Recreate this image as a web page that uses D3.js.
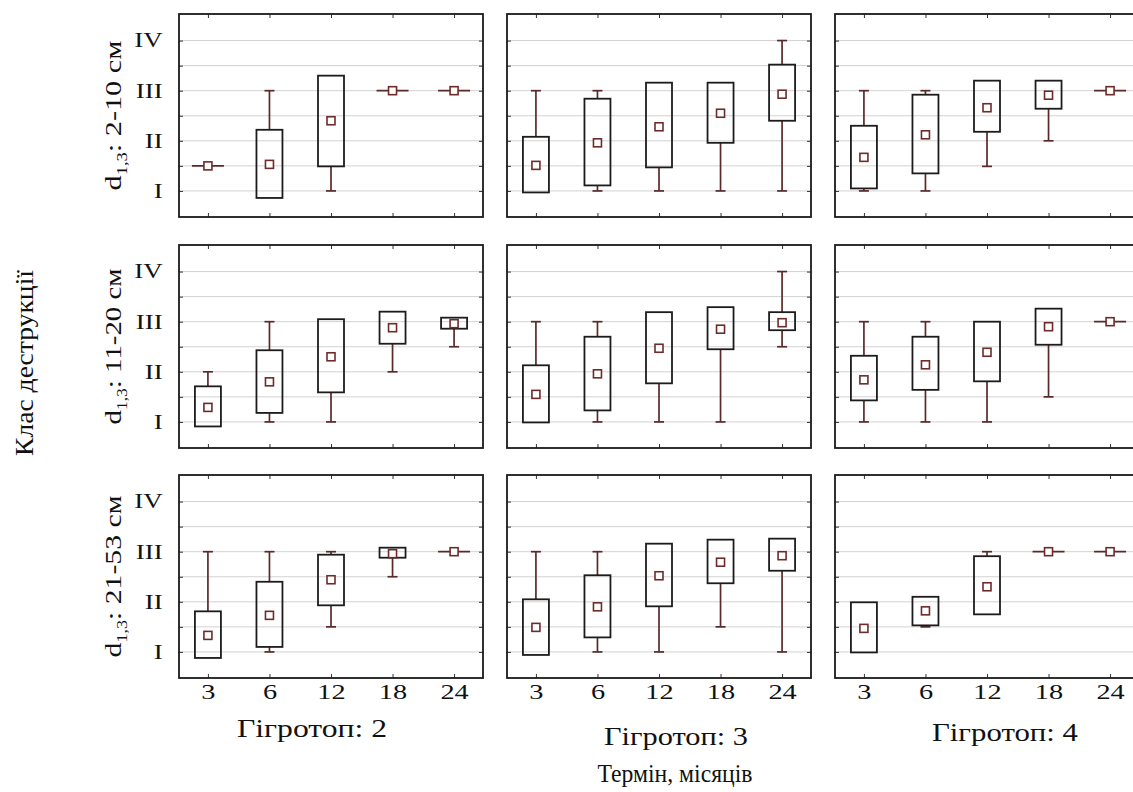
<!DOCTYPE html>
<html><head><meta charset="utf-8">
<script src="https://cdn.jsdelivr.net/npm/d3@7"></script>
<style>body{margin:0;background:#fff} svg{display:block} text{font-family:"Liberation Serif","Times New Roman",serif;fill:#111}</style>
</head><body><svg id="c" width="1133" height="792"></svg>
<script>
// ---- data ----
const times = ["3", "6", "12", "18", "24"];
const hygrotopes = ["Гігротоп: 2", "Гігротоп: 3", "Гігротоп: 4"];
const diameters = ["2-10 см", "11-20 см", "21-53 см"];
const classValues = [1, 2, 3, 4];
const classLabels = ["I", "II", "III", "IV"];

// per row (diameter class): one array per hygrotope, 5 values per time
const mid_d1 = [[1.5, 1.53, 2.40, 3, 3], [1.51, 1.96, 2.28, 2.55, 2.93], [1.67, 2.12, 2.66, 2.91, 3]];
const lo_d1  = [[1.5, 0.86, 1.49, 3, 3], [0.97, 1.11, 1.47, 1.96, 2.40], [1.05, 1.35, 2.18, 2.64, 3]];
const hi_d1  = [[1.5, 2.22, 3.30, 3, 3], [2.08, 2.84, 3.16, 3.16, 3.52], [2.30, 2.92, 3.20, 3.20, 3]];
const min_d1 = [[1.5, 0.86, 1.0, 3, 3], [0.97, 1.0, 1.0, 1.0, 1.0], [1.0, 1.0, 1.49, 2.0, 3]];
const max_d1 = [[1.5, 3.0, 3.30, 3, 3], [3.0, 3.0, 3.16, 3.16, 4.0], [3.0, 3.0, 3.20, 3.20, 3]];

const mid_d2 = [[1.29, 1.80, 2.30, 2.88, 2.96], [1.55, 1.96, 2.47, 2.85, 2.98], [1.84, 2.14, 2.39, 2.90, 3]];
const lo_d2  = [[0.91, 1.18, 1.59, 2.56, 2.86], [0.99, 1.23, 1.77, 2.45, 2.83], [1.43, 1.64, 1.81, 2.54, 3]];
const hi_d2  = [[1.71, 2.43, 3.05, 3.20, 3.08], [2.13, 2.70, 3.19, 3.29, 3.19], [2.32, 2.70, 3.0, 3.26, 3]];
const min_d2 = [[0.91, 1.0, 1.0, 2.0, 2.5], [0.99, 1.0, 1.0, 1.0, 2.5], [1.0, 1.0, 1.0, 1.5, 3]];
const max_d2 = [[2.0, 3.0, 3.05, 3.20, 3.08], [3.0, 3.0, 3.19, 3.29, 4.0], [3.0, 3.0, 3.0, 3.26, 3]];

const mid_d3 = [[1.33, 1.73, 2.44, 2.96, 3], [1.49, 1.90, 2.52, 2.79, 2.92], [1.47, 1.82, 2.30, 3, 3]];
const lo_d3  = [[0.88, 1.10, 1.93, 2.88, 3], [0.94, 1.29, 1.91, 2.37, 2.62], [0.99, 1.53, 1.75, 3, 3]];
const hi_d3  = [[1.81, 2.40, 2.94, 3.08, 3], [2.05, 2.53, 3.16, 3.24, 3.26], [1.99, 2.10, 2.91, 3, 3]];
const min_d3 = [[0.88, 1.0, 1.5, 2.5, 3], [0.94, 1.0, 1.0, 1.5, 1.0], [0.99, 1.5, 1.75, 3, 3]];
const max_d3 = [[3.0, 3.0, 3.0, 3.08, 3], [3.0, 3.0, 3.16, 3.24, 3.26], [1.99, 2.10, 3.0, 3, 3]];

const rows = [
  {mid: mid_d1, lo: lo_d1, hi: hi_d1, min: min_d1, max: max_d1},
  {mid: mid_d2, lo: lo_d2, hi: hi_d2, min: min_d2, max: max_d2},
  {mid: mid_d3, lo: lo_d3, hi: hi_d3, min: min_d3, max: max_d3}
];

// ---- layout ----
const panelLeft = [179, 507, 835];
const panelTop = [14, 245, 475];
const W = 304, H = 203;
const boxW = 26, capW = 10, markS = 8;
const whiskerColor = "#5a2a2a", boxColor = "#1c1c1c", markColor = "#6e2b2b";
const hStretch = 1.35;

const svg = d3.select("#c");
const x = d3.scalePoint().domain(times).range([0, W]).padding(0.47);
const y = d3.scaleLinear().domain([0.48, 4.53]).range([H, 0]);
const gridVals = d3.range(1, 4.01, 0.5);

// place a text centred at (cx, baseline cy), rotated by rot, scaled along its length to targetLen
function fitText(sel, cx, cy, rot, targetLen) {
  const w = sel.node().getComputedTextLength();
  const k = w > 0 ? targetLen / w : 1;
  sel.attr("text-anchor", "middle").attr("x", 0).attr("y", 0)
    .attr("transform", `translate(${cx},${cy}) rotate(${rot}) scale(${k},1)`);
}

rows.forEach((row, r) => {
  hygrotopes.forEach((hg, c) => {
    const g = svg.append("g").attr("transform", `translate(${panelLeft[c]},${panelTop[r]})`);
    // grid
    g.selectAll("line.grid").data(gridVals).join("line").attr("class", "grid")
      .attr("x1", 0).attr("x2", W).attr("y1", d => y(d)).attr("y2", d => y(d))
      .attr("stroke", "#d2d2d2").attr("stroke-width", 1);
    // left axis (ticks inward + roman labels for first column)
    const ax = g.append("g").call(d3.axisLeft(y).tickValues(gridVals).tickSize(-4).tickPadding(12)
      .tickFormat(d => (c === 0 && Number.isInteger(d)) ? classLabels[classValues.indexOf(d)] : ""));
    ax.select(".domain").remove();
    ax.selectAll("line").attr("stroke", "#333");
    ax.selectAll("text").style("font-size", "20px").attr("fill", "#111")
      .attr("transform", `scale(${hStretch},1)`);
    const axr = g.append("g").attr("transform", `translate(${W},0)`)
      .call(d3.axisRight(y).tickValues(gridVals).tickSize(-4).tickFormat(""));
    axr.select(".domain").remove();
    axr.selectAll("line").attr("stroke", "#333");
    const axt = g.append("g").call(d3.axisTop(x).tickSize(-4).tickFormat(""));
    axt.select(".domain").remove();
    axt.selectAll("line").attr("stroke", "#333");
    const axb = g.append("g").attr("transform", `translate(0,${H})`)
      .call(d3.axisBottom(x).tickSize(-4).tickPadding(6).tickFormat(d => r === 2 ? d : ""));
    axb.select(".domain").remove();
    axb.selectAll("line").attr("stroke", "#333");
    axb.selectAll("text").style("font-size", "21px").attr("fill", "#111")
      .attr("transform", `scale(${hStretch},1)`);

    // boxes
    const data = times.map((t, i) => ({t, mid: row.mid[c][i], lo: row.lo[c][i], hi: row.hi[c][i], min: row.min[c][i], max: row.max[c][i]}));
    const b = g.selectAll("g.b").data(data).join("g").attr("class", "b")
      .attr("transform", d => `translate(${x(d.t)},0)`);
    // upper whisker
    b.filter(d => d.max > d.hi + 0.01).append("line")
      .attr("x1", 0).attr("x2", 0).attr("y1", d => y(d.hi)).attr("y2", d => y(d.max))
      .attr("stroke", whiskerColor).attr("stroke-width", 1.7);
    b.filter(d => d.max > d.hi + 0.01).append("line")
      .attr("x1", -capW / 2).attr("x2", capW / 2).attr("y1", d => y(d.max)).attr("y2", d => y(d.max))
      .attr("stroke", whiskerColor).attr("stroke-width", 1.7);
    // lower whisker
    b.filter(d => d.min < d.lo - 0.01).append("line")
      .attr("x1", 0).attr("x2", 0).attr("y1", d => y(d.lo)).attr("y2", d => y(d.min))
      .attr("stroke", whiskerColor).attr("stroke-width", 1.7);
    b.filter(d => d.min < d.lo - 0.01).append("line")
      .attr("x1", -capW / 2).attr("x2", capW / 2).attr("y1", d => y(d.min)).attr("y2", d => y(d.min))
      .attr("stroke", whiskerColor).attr("stroke-width", 1.7);
    // box
    b.filter(d => d.hi - d.lo > 0.01).append("rect")
      .attr("x", -boxW / 2).attr("width", boxW)
      .attr("y", d => y(d.hi)).attr("height", d => y(d.lo) - y(d.hi))
      .attr("fill", "none").attr("stroke", boxColor).attr("stroke-width", 1.8);
    // flat (zero-range) box drawn as line
    b.filter(d => d.hi - d.lo <= 0.01).append("line")
      .attr("x1", -boxW / 2 - 3).attr("x2", boxW / 2 + 3).attr("y1", d => y(d.mid)).attr("y2", d => y(d.mid))
      .attr("stroke", whiskerColor).attr("stroke-width", 1.7);
    // marker
    b.append("rect").attr("x", -markS / 2).attr("width", markS)
      .attr("y", d => y(d.mid) - markS / 2).attr("height", markS)
      .attr("fill", "#fff").attr("stroke", markColor).attr("stroke-width", 1.6);

    // frame
    g.append("rect").attr("x", 0).attr("y", 0).attr("width", W).attr("height", H)
      .attr("fill", "none").attr("stroke", "#1a1a1a").attr("stroke-width", 1.8);
  });

  // row label (d1,3 : ...)
  const lbl = svg.append("text").style("font-size", "23px");
  lbl.append("tspan").text("d");
  lbl.append("tspan").attr("dy", 6).style("font-size", "14px").text("1,3");
  lbl.append("tspan").attr("dy", -6).text(": " + diameters[r]);
  fitText(lbl, 121, panelTop[r] + H / 2, -90, [150, 156, 162][r]);
});

// hygrotope titles
const titleX = [312, 676, 1005];
const titleY = [737, 745, 741];
const titleLen = [150, 144, 146];
hygrotopes.forEach((h, c) => {
  const t = svg.append("text").style("font-size", "26px").text(h);
  fitText(t, titleX[c], titleY[c], 0, titleLen[c]);
});
const xt = svg.append("text").style("font-size", "26px").text("Термін, місяців");
fitText(xt, 675, 782, 0, 155);
const yt = svg.append("text").style("font-size", "25px").text("Клас деструкції");
fitText(yt, 33, 363, -90, 186);
</script></body></html>
